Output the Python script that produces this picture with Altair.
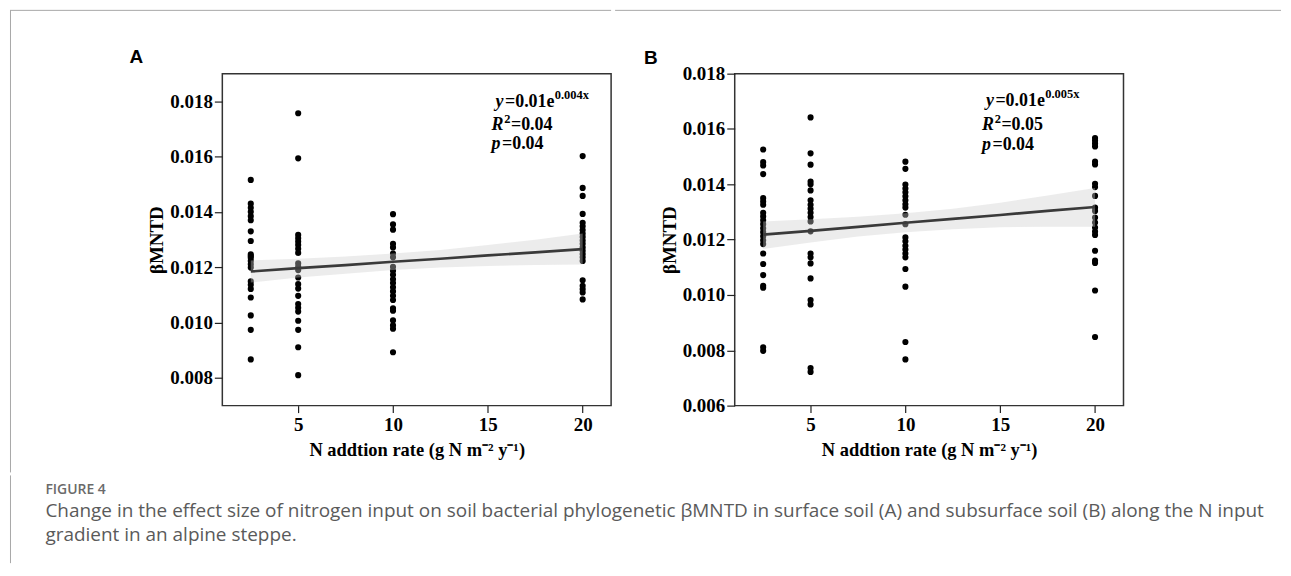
import altair as alt
import pandas as pd

# ---------------- data ----------------
rates = [2.5, 5, 10, 20]

# Panel A (surface soil)
a_n25 = [0.01516, 0.01430, 0.01415, 0.01401, 0.01385, 0.01370, 0.01330, 0.01295, 0.01247, 0.01241,
         0.01235, 0.01223, 0.01211, 0.01199, 0.01149, 0.01137, 0.01122, 0.01091, 0.01026, 0.00974, 0.00867]
a_n5 = [0.01757, 0.01594, 0.01317, 0.01305, 0.01293, 0.01281, 0.01267, 0.01252, 0.01214, 0.01202,
        0.01190, 0.01163, 0.01139, 0.01123, 0.01097, 0.01067, 0.01054, 0.01040, 0.01007, 0.00974, 0.00911, 0.00810]
a_n10 = [0.01392, 0.01355, 0.01336, 0.01285, 0.01272, 0.01250, 0.01236, 0.01202, 0.01188, 0.01173,
         0.01157, 0.01143, 0.01128, 0.01113, 0.01097, 0.01082, 0.01052, 0.01043, 0.01008, 0.00990, 0.00978, 0.00893]
a_n20 = [0.01602, 0.01487, 0.01458, 0.01393, 0.01361, 0.01348, 0.01335, 0.01322, 0.01310, 0.01297,
         0.01285, 0.01272, 0.01260, 0.01248, 0.01236, 0.01223, 0.01153, 0.01133, 0.01121, 0.01109, 0.01084]

# Panel B (subsurface soil)
b_n25 = [0.01526, 0.01480, 0.01468, 0.01437, 0.01350, 0.01338, 0.01326, 0.01297, 0.01284, 0.01270,
         0.01256, 0.01241, 0.01227, 0.01212, 0.01198, 0.01184, 0.01150, 0.01112, 0.01072, 0.01033,
         0.01026, 0.00811, 0.00798]
b_n5 = [0.01642, 0.01512, 0.01471, 0.01410, 0.01400, 0.01378, 0.01342, 0.01326, 0.01312, 0.01297,
        0.01282, 0.01266, 0.01230, 0.01150, 0.01136, 0.01114, 0.01060, 0.00982, 0.00966, 0.00736, 0.00722]
b_n10 = [0.01482, 0.01456, 0.01399, 0.01385, 0.01371, 0.01357, 0.01342, 0.01328, 0.01316, 0.01290,
         0.01256, 0.01208, 0.01194, 0.01178, 0.01164, 0.01150, 0.01136, 0.01094, 0.01030, 0.00830, 0.00767]
b_n20 = [0.01567, 0.01558, 0.01548, 0.01537, 0.01482, 0.01472, 0.01402, 0.01390, 0.01358, 0.01316,
         0.01304, 0.01280, 0.01262, 0.01244, 0.01229, 0.01217, 0.01160, 0.01124, 0.01116, 0.01016, 0.00848]

# fitted curve and confidence band
fit_x = [2.5, 5, 7.5, 10, 12.5, 15, 17.5, 20]
a_fit = [0.01185, 0.01197, 0.01208, 0.01220, 0.01231, 0.01243, 0.01254, 0.01266]
a_lo = [0.01145, 0.01163, 0.01177, 0.01190, 0.01199, 0.01205, 0.01208, 0.01210]
a_hi = [0.01225, 0.01231, 0.01239, 0.01250, 0.01263, 0.01281, 0.01300, 0.01322]
b_fit = [0.01218, 0.01232, 0.01246, 0.01261, 0.01275, 0.01289, 0.01304, 0.01318]
b_lo = [0.01166, 0.01190, 0.01211, 0.01227, 0.01238, 0.01245, 0.01247, 0.01247]
b_hi = [0.01266, 0.01274, 0.01283, 0.01295, 0.01312, 0.01333, 0.01360, 0.01387]

x_ticks = [5, 10, 15, 20]
a_yticks = [0.008, 0.010, 0.012, 0.014, 0.016, 0.018]
b_yticks = [0.006, 0.008, 0.010, 0.012, 0.014, 0.016, 0.018]

a_eq = ["y", "=0.01e", "0.004x", "R", "2", "=0.04", "p", "=0.04"]
b_eq = ["y", "=0.01e", "0.005x", "R", "2", "=0.05", "p", "=0.04"]

x_title = "N addtion rate (g N m\u207b\u00b2 y\u207b\u00b9)"
y_title = "\u03b2MNTD"
cap_head = "FIGURE 4"
cap_line1 = ("Change in the effect size of nitrogen input on soil bacterial phylogenetic \u03b2MNTD in surface "
             "soil (A) and subsurface soil (B) along the N input")
cap_line2 = "gradient in an alpine steppe."

# ---------------- styling ----------------
SERIF = "Liberation Serif"
SANS = "Liberation Sans"
CAPF = "Open Sans"
W, H = 390, 333
LEFT = 213            # distance from page-left border to panel A plot area
GAP_B = 120           # distance from panel A plot right edge to panel B plot left edge
BORDER = "#a8a8a8"


def pts_frame(groups):
    xs, ys = [], []
    for r, vals in zip(rates, groups):
        xs += [r] * len(vals)
        ys += vals
    return pd.DataFrame({"rate": xs, "value": ys})


def one(s):
    return pd.DataFrame({"t": [s]})


def txt(s, x, y, size=18, italic=False, font=SERIF, weight="bold", color="black"):
    return alt.Chart(one(s)).mark_text(
        align="left", baseline="alphabetic", font=font, fontWeight=weight,
        fontStyle="italic" if italic else "normal", fontSize=size, color=color
    ).encode(x=alt.value(x), y=alt.value(y), text="t:N")


def rule(x, y, x2=None, y2=None):
    enc = dict(x=alt.value(x), y=alt.value(y))
    if x2 is not None:
        enc["x2"] = alt.value(x2)
    if y2 is not None:
        enc["y2"] = alt.value(y2)
    return alt.Chart(one("b")).mark_rule(color=BORDER, strokeWidth=1).encode(**enc)


def panel(groups, fit, lo, hi, ydom, yticks, eq, ann, letter, extras):
    xscale = alt.Scale(domain=[1, 21.5], nice=False, zero=False)
    yscale = alt.Scale(domain=ydom, nice=False, zero=False)
    xaxis = alt.Axis(values=x_ticks, format="d", title=x_title, grid=False, domain=False,
                     tickColor="#222", tickSize=7, tickWidth=1.2,
                     labelFont=SERIF, labelFontWeight="bold", labelFontSize=19, labelColor="black",
                     labelPadding=3, titleFont=SERIF, titleFontWeight="bold", titleFontSize=18.5,
                     titleColor="black", titlePadding=6)
    yaxis = alt.Axis(values=yticks, format=".3f", title=y_title, grid=False, domain=False,
                     tickColor="#222", tickSize=8, tickWidth=1.2,
                     labelFont=SERIF, labelFontWeight="bold", labelFontSize=19, labelColor="black",
                     labelPadding=2, titleFont=SERIF, titleFontWeight="bold", titleFontSize=19,
                     titleColor="black", titlePadding=3)
    pdf = pts_frame(groups)
    fdf = pd.DataFrame({"rate": fit_x, "fit": fit, "lo": lo, "hi": hi})

    points = alt.Chart(pdf).mark_circle(size=38, color="black", opacity=1).encode(
        x=alt.X("rate:Q", scale=xscale, axis=xaxis),
        y=alt.Y("value:Q", scale=yscale, axis=yaxis))
    band = alt.Chart(fdf).mark_area(color="#cccccc", opacity=0.38).encode(
        x=alt.X("rate:Q", scale=xscale, axis=xaxis),
        y=alt.Y("lo:Q", scale=yscale, axis=yaxis), y2="hi:Q")
    line = alt.Chart(fdf).mark_line(color="#3a3a3a", strokeWidth=2.7).encode(
        x=alt.X("rate:Q", scale=xscale, axis=xaxis),
        y=alt.Y("fit:Q", scale=yscale, axis=yaxis))

    x1, b1, x2, b2, b3 = ann
    texts = [
        txt(eq[0], x1, b1, italic=True),
        txt(eq[1], x1 + 9.5, b1),
        txt(eq[2], x1 + 59.5, b1 - 8, size=12.5),
        txt(eq[3], x2, b2, italic=True),
        txt(eq[4], x2 + 12.8, b2 - 8, size=12.5),
        txt(eq[5], x2 + 19.5, b2),
        txt(eq[6], x2, b3, italic=True),
        txt(eq[7], x2 + 10.5, b3),
        txt(letter[0], letter[1], letter[2], size=19, font=SANS),
    ]
    return alt.layer(points, band, line, *texts, *extras).properties(
        width=W, height=H, view=alt.ViewBackground(stroke="#333333", strokeWidth=1.5))


chart_a = panel([a_n25, a_n5, a_n10, a_n20], a_fit, a_lo, a_hi, [0.007, 0.019], a_yticks, a_eq,
                (274, 33, 270, 57, 76), ("A", -93, -11),
                [rule(-LEFT + 0.5, -63.5, y2=400), rule(-LEFT, -63.5, x2=W)])
chart_b = panel([b_n25, b_n5, b_n10, b_n20], b_fit, b_lo, b_hi, [0.006, 0.018], b_yticks, b_eq,
                (252, 32, 248, 57, 77), ("B", -91, -10),
                [rule(-GAP_B, -63.5, x2=548)])

# caption: its plot origin lines up with panel A's plot origin
caption = alt.layer(
    txt(cap_head, 35.5 - LEFT, 19, size=14, font=CAPF, weight=600, color="#6a6a6a"),
    txt(cap_line1, 35.5 - LEFT, 42, size=19, font=CAPF, weight="normal", color="#5a5a5a"),
    txt(cap_line2, 35.5 - LEFT, 66, size=19, font=CAPF, weight="normal", color="#5a5a5a"),
    rule(-LEFT + 0.5, 0, y2=88),
).properties(width=1, height=80, view=alt.ViewBackground(stroke=None))

top = alt.hconcat(chart_a, chart_b, spacing=0)
chart = alt.vconcat(top, caption, spacing=0, padding=0).configure_view(stroke=None)

chart.save("out.html", embed_options={"renderer": "svg", "actions": False})
